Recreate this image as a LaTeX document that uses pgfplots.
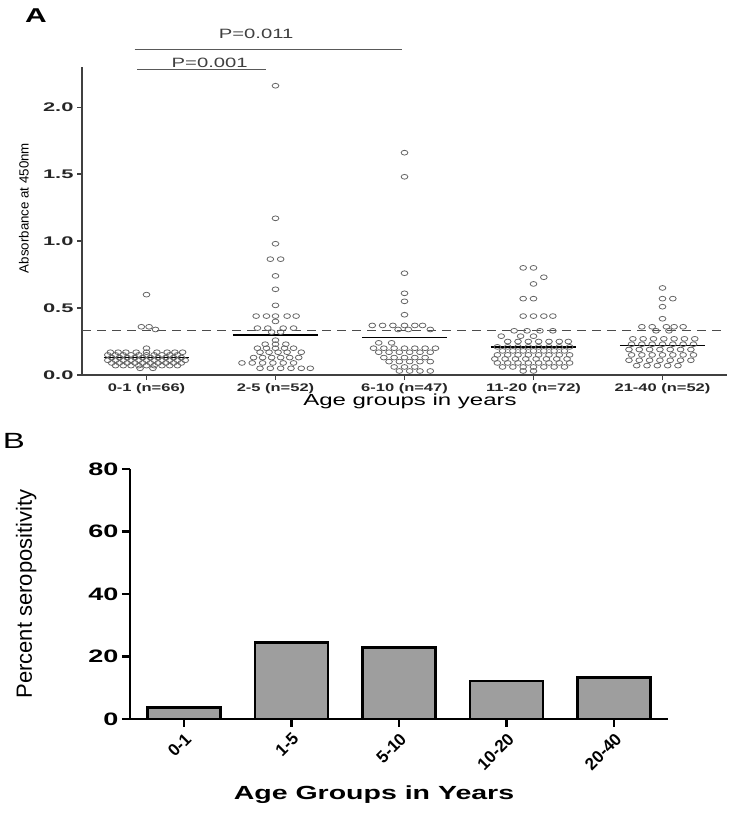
\documentclass[border=0pt]{standalone}
\usepackage{fontspec}
\setmainfont{Liberation Sans}[FakeStretch=1.5]
\newfontfamily\plain{Liberation Sans}
\newfontfamily\wideA{Liberation Sans}[FakeStretch=1.75]
\usepackage{pgfplots}
\pgfplotsset{compat=1.18}
\begin{document}
\begin{tikzpicture}[x=1pt,y=1pt]
\path[use as bounding box] (0,0) rectangle (747,818);
% ---------------- Panel A ----------------
\begin{axis}[
  at={(82pt,443pt)}, anchor=south west, scale only axis,
  width=645pt, height=308pt,
  xmin=-0.5, xmax=4.5, ymin=0, ymax=2.3,
  axis x line*=bottom, axis y line*=left,
  axis line style={-, line width=1.3pt, black!75},
  tick align=outside, major tick length=5pt,
  tick style={line width=1.3pt, black!75},
  ytick={0,0.5,1,1.5,2},
  yticklabel style={/pgf/number format/fixed, /pgf/number format/fixed zerofill, /pgf/number format/precision=1, /pgf/number format/assume math mode=true, font=\wideA\bfseries\fontsize{12.5}{12.5}\selectfont, black!85},
  xtick={0,1,2,3,4},
  xticklabels={0-1 (n=66),2-5 (n=52),6-10 (n=47),11-20 (n=72),21-40 (n=52)},
  xticklabel style={font=\bfseries\fontsize{11}{11}\selectfont, black!85},
  xlabel={Age groups in years},
  xlabel style={at={(axis description cs:0.5085,-0.087)}, anchor=center, font=\fontsize{16}{16}\selectfont},
  ylabel={Absorbance at 450nm},
  ylabel style={at={(axis description cs:-0.09,0.542)}, anchor=center, font=\plain\fontsize{13.3}{13.3}\selectfont},
  clip=false,
]
% dashed cutoff
\addplot[black!70, line width=1.3pt, dash pattern=on 9pt off 6pt] coordinates {(-0.5,0.33) (4.5,0.33)};
% group 0-1
\addplot[only marks, mark=o, mark size=2.4pt, mark options={xscale=1.4, draw=black!60, line width=0.8pt}] coordinates {
(0,0.60) (-0.04,0.36) (0.02,0.36) (0.07,0.34) (0,0.20)
(-0.28,0.17) (-0.22,0.17) (-0.16,0.17) (-0.08,0.17) (0.0,0.17) (0.08,0.17) (0.16,0.17) (0.22,0.17) (0.28,0.17)
(-0.30,0.15) (-0.24,0.15) (-0.18,0.15) (-0.12,0.15) (-0.06,0.15) (0.0,0.15) (0.06,0.15) (0.12,0.15) (0.18,0.15) (0.24,0.15)
(-0.27,0.13) (-0.21,0.13) (-0.15,0.13) (-0.09,0.13) (-0.03,0.13) (0.03,0.13) (0.09,0.13) (0.15,0.13) (0.21,0.13) (0.27,0.13)
(-0.30,0.11) (-0.24,0.11) (-0.18,0.11) (-0.12,0.11) (-0.06,0.11) (0.0,0.11) (0.06,0.11) (0.12,0.11) (0.18,0.11) (0.24,0.11) (0.30,0.11)
(-0.27,0.09) (-0.21,0.09) (-0.15,0.09) (-0.09,0.09) (-0.03,0.09) (0.03,0.09) (0.09,0.09) (0.15,0.09) (0.21,0.09) (0.27,0.09)
(-0.24,0.07) (-0.18,0.07) (-0.12,0.07) (-0.06,0.07) (0.0,0.07) (0.06,0.07) (0.12,0.07) (0.18,0.07) (0.24,0.07)
(-0.05,0.05) (0.05,0.05)
};
% group 2-5
\addplot[only marks, mark=o, mark size=2.4pt, mark options={xscale=1.4, draw=black!60, line width=0.8pt}] coordinates {
(1,2.16) (1,1.17) (1,0.98) (0.96,0.865) (1.04,0.865) (1,0.74) (1,0.64) (1,0.52)
(0.85,0.44) (0.93,0.44) (1.0,0.44) (1.09,0.44) (1.16,0.44)
(1.0,0.40)
(0.86,0.35) (0.94,0.35) (1.06,0.35) (1.14,0.35)
(0.97,0.32) (1.04,0.32)
(1.0,0.26)
(0.92,0.23) (1.0,0.23) (1.08,0.23)
(0.86,0.20) (0.93,0.20) (1.0,0.20) (1.07,0.20) (1.14,0.20)
(0.88,0.17) (0.95,0.17) (1.02,0.17) (1.09,0.17) (1.2,0.17)
(0.83,0.13) (0.90,0.13) (0.97,0.13) (1.04,0.13) (1.11,0.13) (1.18,0.13)
(0.74,0.09) (0.82,0.09) (0.90,0.09) (0.98,0.09) (1.06,0.09) (1.14,0.09)
(0.88,0.05) (0.96,0.05) (1.04,0.05) (1.12,0.05) (1.2,0.05) (1.27,0.05)
};
% group 6-10
\addplot[only marks, mark=o, mark size=2.4pt, mark options={xscale=1.4, draw=black!60, line width=0.8pt}] coordinates {
(2,1.66) (2,1.48) (2,0.76) (2,0.61) (2,0.55) (2,0.45)
(1.75,0.37) (1.83,0.37) (1.91,0.37) (2.0,0.37) (2.08,0.37) (2.14,0.37)
(1.95,0.34) (2.03,0.34) (2.2,0.34)
(1.8,0.24) (1.9,0.24)
(1.76,0.20) (1.84,0.20) (1.92,0.20) (2.0,0.20) (2.08,0.20) (2.16,0.20) (2.24,0.20)
(1.8,0.17) (1.88,0.17) (1.96,0.17) (2.04,0.17) (2.12,0.17) (2.2,0.17)
(1.84,0.13) (1.92,0.13) (2.0,0.13) (2.08,0.13) (2.16,0.13)
(1.88,0.10) (1.96,0.10) (2.04,0.10) (2.12,0.10) (2.2,0.10)
(1.92,0.06) (2.0,0.06) (2.08,0.06)
(1.96,0.03) (2.04,0.03) (2.12,0.03) (2.2,0.03)
};
% group 11-20
\addplot[only marks, mark=o, mark size=2.4pt, mark options={xscale=1.4, draw=black!60, line width=0.8pt}] coordinates {
(2.92,0.80) (3.0,0.80) (3.08,0.73) (3.0,0.68) (2.92,0.57) (3.0,0.57)
(2.92,0.44) (3.0,0.44) (3.08,0.44) (3.15,0.44)
(2.85,0.33) (2.95,0.33) (3.05,0.33) (3.15,0.33)
(2.75,0.29) (2.9,0.29) (3.0,0.29)
(2.8,0.25) (2.88,0.25) (2.96,0.25) (3.04,0.25) (3.12,0.25) (3.2,0.25) (3.27,0.25)
(2.72,0.21) (2.8,0.21) (2.88,0.21) (2.96,0.21) (3.04,0.21) (3.12,0.21) (3.2,0.21) (3.28,0.21)
(2.76,0.18) (2.84,0.18) (2.92,0.18) (3.0,0.18) (3.08,0.18) (3.16,0.18) (3.24,0.18)
(2.72,0.15) (2.8,0.15) (2.88,0.15) (2.96,0.15) (3.04,0.15) (3.12,0.15) (3.2,0.15) (3.28,0.15)
(2.7,0.12) (2.78,0.12) (2.86,0.12) (2.94,0.12) (3.02,0.12) (3.1,0.12) (3.18,0.12) (3.26,0.12)
(2.72,0.09) (2.8,0.09) (2.88,0.09) (2.96,0.09) (3.04,0.09) (3.12,0.09) (3.2,0.09) (3.28,0.09)
(2.76,0.06) (2.84,0.06) (2.92,0.06) (3.0,0.06) (3.08,0.06) (3.16,0.06) (3.24,0.06)
(2.92,0.03) (3.0,0.03)
};
% group 21-40
\addplot[only marks, mark=o, mark size=2.4pt, mark options={xscale=1.4, draw=black!60, line width=0.8pt}] coordinates {
(4,0.65) (4,0.57) (4.08,0.57) (4,0.51) (4,0.42)
(3.84,0.36) (3.92,0.36) (4.03,0.36) (4.09,0.36) (4.16,0.36)
(3.95,0.33) (4.05,0.33)
(3.77,0.27) (3.85,0.27) (3.93,0.27) (4.01,0.27) (4.09,0.27) (4.17,0.27) (4.25,0.27)
(3.76,0.23) (3.84,0.23) (3.92,0.23) (4.0,0.23) (4.08,0.23) (4.16,0.23) (4.24,0.23)
(3.74,0.19) (3.82,0.19) (3.9,0.19) (3.98,0.19) (4.06,0.19) (4.14,0.19) (4.22,0.19)
(3.76,0.15) (3.84,0.15) (3.92,0.15) (4.0,0.15) (4.08,0.15) (4.16,0.15) (4.24,0.15)
(3.74,0.11) (3.82,0.11) (3.9,0.11) (3.98,0.11) (4.06,0.11) (4.14,0.11) (4.22,0.11)
(3.8,0.07) (3.88,0.07) (3.96,0.07) (4.04,0.07) (4.12,0.07)
};
% medians
\addplot[black, line width=1.6pt] coordinates {(-0.33,0.13) (0.33,0.13)};
\addplot[black, line width=1.6pt] coordinates {(0.67,0.30) (1.33,0.30)};
\addplot[black, line width=1.6pt] coordinates {(1.67,0.28) (2.33,0.28)};
\addplot[black, line width=1.6pt] coordinates {(2.67,0.21) (3.33,0.21)};
\addplot[black, line width=1.6pt] coordinates {(3.67,0.22) (4.33,0.22)};
% significance brackets
\draw[black!65, line width=1.2pt] (axis cs:-0.093,2.43) -- (axis cs:1.98,2.43);
\draw[black!65, line width=1.2pt] (axis cs:-0.07,2.28) -- (axis cs:0.93,2.28);
\node[black!75, font=\fontsize{13.5}{13.5}\selectfont] at (axis cs:0.85,2.55) {P=0.011};
\node[black!75, font=\fontsize{13.5}{13.5}\selectfont] at (axis cs:0.49,2.33) {P=0.001};
\end{axis}
\node[font=\bfseries\fontsize{20}{20}\selectfont] at (36,802) {A};
% ---------------- Panel B ----------------
\begin{axis}[
  at={(130pt,99pt)}, anchor=south west, scale only axis,
  width=538pt, height=250pt,
  xmin=-0.5, xmax=4.5, ymin=0, ymax=80,
  axis x line*=bottom, axis y line*=left,
  axis line style={-, line width=2.4pt, black},
  tick align=outside, major tick length=8pt,
  tick style={line width=2.4pt, black},
  ytick={0,20,40,60,80},
  yticklabel style={/pgf/number format/assume math mode=true, font=\bfseries\fontsize{18}{18}\selectfont},
  xtick={0,1,2,3,4},
  xticklabels={0-1,1-5,5-10,10-20,20-40},
  xticklabel style={rotate=45, anchor=north east, font=\plain\bfseries\fontsize{17}{17}\selectfont},
  xlabel={Age Groups in Years},
  xlabel style={at={(axis description cs:0.4535,-0.304)}, anchor=center, font=\bfseries\fontsize{19}{19}\selectfont},
  ylabel={Percent seropositivity},
  ylabel style={at={(axis description cs:-0.193,0.5)}, anchor=center, font=\plain\fontsize{22}{22}\selectfont},
  ybar, bar width=0.68, bar shift=0pt,
  clip=false,
]
\addplot[ybar, fill=black!38, draw=black, line width=2.6pt] coordinates {(0,3.7) (1,24.5) (2,22.8) (3,12.2) (4,13.2)};
\end{axis}
\node[font=\fontsize{22}{22}\selectfont] at (14,377) {B};
\end{tikzpicture}
\end{document}
